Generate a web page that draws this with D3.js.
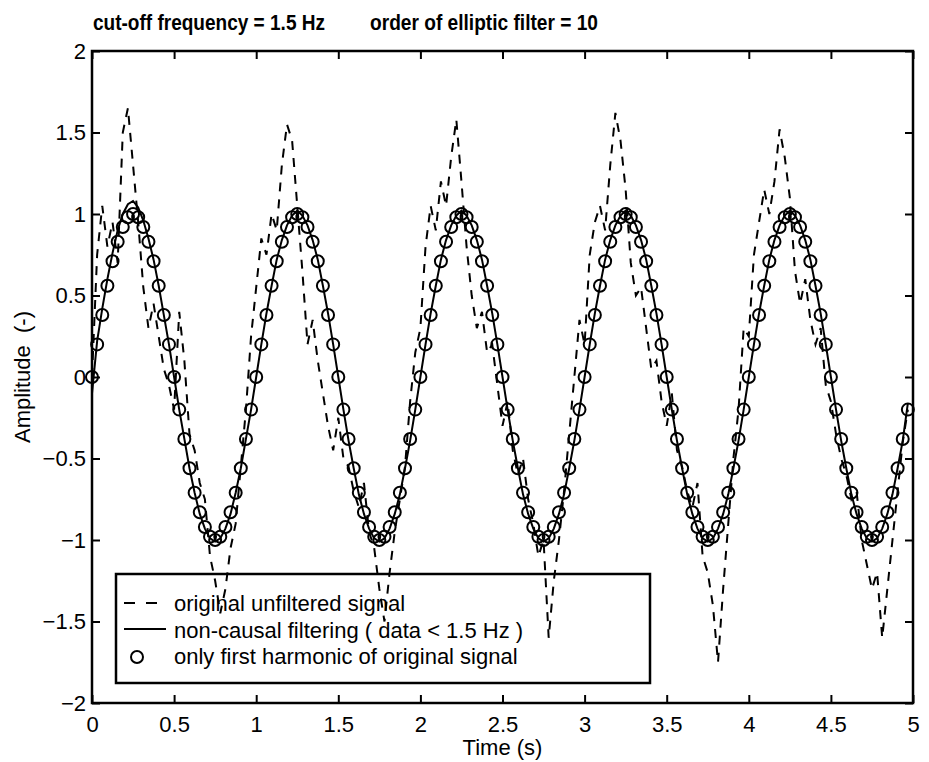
<!DOCTYPE html>
<html>
<head>
<meta charset="utf-8">
<script src="https://cdn.jsdelivr.net/npm/d3@7"></script>
<style>
  body { margin: 0; background: #fff; }
  text { font-family: "Liberation Sans", Arial, Helvetica, sans-serif; fill: #000; }
</style>
</head>
<body>
<script>
// sampling step of the signal (s)
var dt = 1 / 32;

// only first harmonic of original signal (circles)
var firstHarmonic = [
  0, 0.20, 0.38, 0.56, 0.71, 0.83, 0.92, 0.98, 1.00, 0.98, 0.92, 0.83, 0.71, 0.56, 0.38, 0.20,
  0, -0.20, -0.38, -0.56, -0.71, -0.83, -0.92, -0.98, -1.00, -0.98, -0.92, -0.83, -0.71, -0.56, -0.38, -0.20,
  0, 0.20, 0.38, 0.56, 0.71, 0.83, 0.92, 0.98, 1.00, 0.98, 0.92, 0.83, 0.71, 0.56, 0.38, 0.20,
  0, -0.20, -0.38, -0.56, -0.71, -0.83, -0.92, -0.98, -1.00, -0.98, -0.92, -0.83, -0.71, -0.56, -0.38, -0.20,
  0, 0.20, 0.38, 0.56, 0.71, 0.83, 0.92, 0.98, 1.00, 0.98, 0.92, 0.83, 0.71, 0.56, 0.38, 0.20,
  0, -0.20, -0.38, -0.56, -0.71, -0.83, -0.92, -0.98, -1.00, -0.98, -0.92, -0.83, -0.71, -0.56, -0.38, -0.20,
  0, 0.20, 0.38, 0.56, 0.71, 0.83, 0.92, 0.98, 1.00, 0.98, 0.92, 0.83, 0.71, 0.56, 0.38, 0.20,
  0, -0.20, -0.38, -0.56, -0.71, -0.83, -0.92, -0.98, -1.00, -0.98, -0.92, -0.83, -0.71, -0.56, -0.38, -0.20,
  0, 0.20, 0.38, 0.56, 0.71, 0.83, 0.92, 0.98, 1.00, 0.98, 0.92, 0.83, 0.71, 0.56, 0.38, 0.20,
  0, -0.20, -0.38, -0.56, -0.71, -0.83, -0.92, -0.98, -1.00, -0.98, -0.92, -0.83, -0.71, -0.56, -0.38, -0.20
];

// non-causal filtering (data < 1.5 Hz), solid line
var filtered = [
  -0.10, 0.22, 0.42, 0.60, 0.76, 0.90, 1.00, 1.06, 1.08, 1.04, 0.96, 0.85, 0.72, 0.56, 0.38, 0.20,
  0.00, -0.20, -0.38, -0.56, -0.71, -0.84, -0.93, -0.99, -1.01, -0.99, -0.93, -0.84, -0.71, -0.56, -0.38, -0.20,
  0.00, 0.20, 0.39, 0.56, 0.72, 0.84, 0.93, 0.99, 1.02, 0.99, 0.93, 0.84, 0.72, 0.56, 0.39, 0.20,
  0.00, -0.20, -0.39, -0.56, -0.72, -0.84, -0.93, -0.99, -1.01, -0.99, -0.93, -0.84, -0.72, -0.56, -0.39, -0.20,
  0.00, 0.20, 0.39, 0.56, 0.72, 0.84, 0.93, 0.99, 1.02, 0.99, 0.93, 0.84, 0.72, 0.56, 0.39, 0.20,
  0.00, -0.20, -0.39, -0.56, -0.72, -0.84, -0.93, -0.99, -1.01, -0.99, -0.93, -0.84, -0.72, -0.56, -0.39, -0.20,
  0.00, 0.20, 0.39, 0.56, 0.72, 0.84, 0.93, 0.99, 1.02, 0.99, 0.93, 0.84, 0.72, 0.56, 0.39, 0.20,
  0.00, -0.20, -0.39, -0.56, -0.72, -0.84, -0.93, -0.99, -1.01, -0.99, -0.93, -0.84, -0.72, -0.56, -0.39, -0.20,
  0.00, 0.20, 0.39, 0.56, 0.72, 0.84, 0.93, 0.99, 1.02, 0.99, 0.93, 0.84, 0.72, 0.56, 0.39, 0.20,
  0.00, -0.20, -0.39, -0.56, -0.72, -0.84, -0.93, -0.99, -1.01, -0.99, -0.93, -0.84, -0.72, -0.56, -0.39, -0.16
];

// original unfiltered signal, dashed line
var original = [
  0.00, 0.75, 1.05, 0.80, 0.95, 0.70, 1.50, 1.65, 1.30, 0.95, 0.55, 0.30, 0.45, 0.25, 0.05, -0.05,
  -0.20, 0.40, 0.10, -0.35, -0.45, -0.65, -0.75, -1.10, -1.25, -1.45, -1.30, -1.05, -0.90, -0.55, -0.20, 0.25,
  0.55, 0.85, 0.75, 1.00, 0.90, 1.30, 1.55, 1.45, 1.05, 0.65, 0.20, 0.35, 0.10, -0.10, -0.30, -0.45,
  -0.25, -0.50, -0.55, -0.70, -0.80, -0.65, -0.95, -1.05, -1.30, -1.50, -1.20, -0.95, -0.75, -0.55, -0.15, 0.15,
  0.30, 0.80, 1.05, 0.90, 1.20, 1.05, 1.35, 1.58, 1.20, 0.80, 0.50, 0.30, 0.40, 0.15, 0.20, -0.05,
  -0.30, -0.15, -0.45, -0.60, -0.50, -0.75, -0.90, -1.10, -1.00, -1.60, -1.25, -1.00, -0.70, -0.35, 0.00, 0.35,
  0.20, 0.75, 0.95, 1.05, 0.90, 1.30, 1.62, 1.45, 1.15, 0.70, 0.50, 0.55, 0.30, 0.05, 0.10, -0.15,
  -0.30, -0.10, -0.45, -0.55, -0.70, -0.80, -0.65, -1.10, -1.20, -1.40, -1.75, -1.30, -0.90, -0.50, -0.20, 0.30,
  0.25, 0.75, 0.95, 1.15, 1.00, 1.20, 1.52, 1.35, 1.10, 0.65, 0.45, 0.60, 0.35, 0.20, 0.30, -0.05,
  -0.15, -0.35, -0.50, -0.60, -0.75, -0.70, -1.00, -1.15, -1.30, -1.20, -1.60, -1.30, -1.00, -0.70, -0.40, -0.20
];

var xTicks = [0, 0.5, 1, 1.5, 2, 2.5, 3, 3.5, 4, 4.5, 5];
var yTicks = [-2, -1.5, -1, -0.5, 0, 0.5, 1, 1.5, 2];

var legendLabels = [
  "original unfiltered signal",
  "non-causal filtering ( data < 1.5 Hz )",
  "only first harmonic of original signal"
];

var W = 929, H = 762;
var pLeft = 92, pRight = 913, pTop = 51, pBottom = 703;

var svg = d3.select("body").append("svg")
    .attr("width", W)
    .attr("height", H);

var x = d3.scaleLinear().domain([0, 5]).range([pLeft, pRight]);
var y = d3.scaleLinear().domain([-2, 2]).range([pBottom, pTop]);
var fmt = d3.format("");

// axes, ticks pointing inwards on all four sides (matlab style)
var axes = [
  [d3.axisBottom(x).tickValues(xTicks).tickFormat(fmt).tickPadding(13), "translate(0," + pBottom + ")"],
  [d3.axisTop(x).tickValues(xTicks).tickFormat(""), "translate(0," + pTop + ")"],
  [d3.axisLeft(y).tickValues(yTicks).tickFormat(fmt).tickPadding(6), "translate(" + pLeft + ",0)"],
  [d3.axisRight(y).tickValues(yTicks).tickFormat(""), "translate(" + pRight + ",0)"]
];
axes.forEach(function(a){
    var g = svg.append("g")
        .attr("transform", a[1])
        .call(a[0].tickSizeInner(-8).tickSizeOuter(0));
    g.select(".domain").remove();
    g.selectAll(".tick line").attr("stroke", "#000").attr("stroke-width", 2);
    g.selectAll(".tick text")
        .attr("font-size", 22)
        .style("font-family", "'Liberation Sans', Arial, sans-serif");
});

svg.append("rect")
    .attr("x", pLeft).attr("y", pTop)
    .attr("width", pRight - pLeft).attr("height", pBottom - pTop)
    .attr("fill", "none")
    .attr("stroke", "#000")
    .attr("stroke-width", 2.5);

var line = d3.line()
    .x(function(d, i){ return x(i * dt); })
    .y(function(d){ return y(d); });

svg.append("path")
    .datum(original)
    .attr("d", line)
    .attr("fill", "none")
    .attr("stroke", "#000")
    .attr("stroke-width", 2)
    .attr("stroke-dasharray", "9,8");

svg.append("path")
    .datum(filtered)
    .attr("d", line)
    .attr("fill", "none")
    .attr("stroke", "#000")
    .attr("stroke-width", 2);

svg.append("g").selectAll("circle")
    .data(firstHarmonic)
    .join("circle")
    .attr("cx", function(d, i){ return x(i * dt); })
    .attr("cy", function(d){ return y(d); })
    .attr("r", 6)
    .attr("fill", "none")
    .attr("stroke", "#000")
    .attr("stroke-width", 2);

// legend (transparent box, lines show through)
var lg = svg.append("g");
lg.append("rect")
    .attr("x", 116).attr("y", 574)
    .attr("width", 534).attr("height", 109)
    .attr("fill", "none")
    .attr("stroke", "#000")
    .attr("stroke-width", 2.5);

lg.append("line")
    .attr("x1", 124).attr("x2", 162).attr("y1", 603).attr("y2", 603)
    .attr("stroke", "#000").attr("stroke-width", 2)
    .attr("stroke-dasharray", "11,11");
lg.append("line")
    .attr("x1", 124).attr("x2", 166).attr("y1", 629).attr("y2", 629)
    .attr("stroke", "#000").attr("stroke-width", 2);
lg.append("circle")
    .attr("cx", 137).attr("cy", 657).attr("r", 6)
    .attr("fill", "none").attr("stroke", "#000").attr("stroke-width", 2);

lg.selectAll("text.lab")
    .data(legendLabels)
    .join("text")
    .attr("class", "lab")
    .attr("x", 174)
    .attr("y", function(d, i){ return 611 + i * 26.5; })
    .attr("font-size", 22)
    .text(function(d){ return d; });

// titles
svg.append("text")
    .attr("x", 93).attr("y", 30)
    .attr("font-size", 22).attr("font-weight", "bold")
    .attr("textLength", 232).attr("lengthAdjust", "spacingAndGlyphs")
    .text("cut-off frequency = 1.5 Hz");
svg.append("text")
    .attr("x", 370).attr("y", 30)
    .attr("font-size", 22).attr("font-weight", "bold")
    .attr("textLength", 228).attr("lengthAdjust", "spacingAndGlyphs")
    .text("order of elliptic filter = 10");

svg.append("text")
    .attr("x", (pLeft + pRight) / 2).attr("y", 755)
    .attr("text-anchor", "middle")
    .attr("font-size", 22)
    .text("Time (s)");

svg.append("text")
    .attr("transform", "translate(30," + ((pTop + pBottom) / 2) + ") rotate(-90)")
    .attr("text-anchor", "middle")
    .attr("font-size", 22)
    .style("white-space", "pre")
    .text("Amplitude  (-)");
</script>
</body>
</html>
